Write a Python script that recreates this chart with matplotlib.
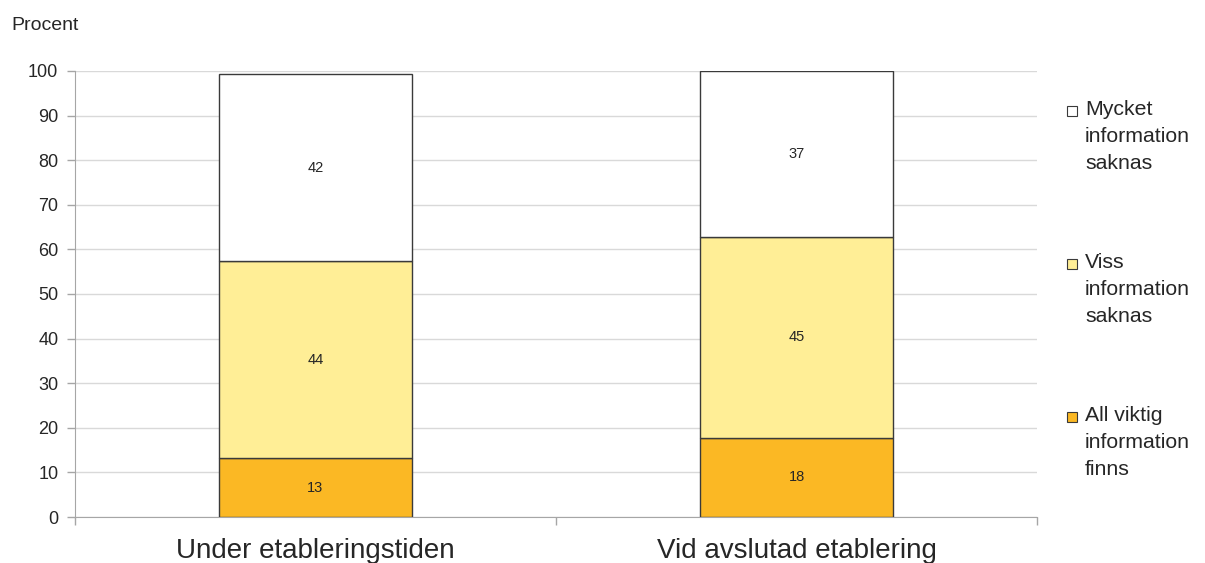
import matplotlib
matplotlib.use("Agg")
import matplotlib.pyplot as plt
from matplotlib.patches import Rectangle
import numpy as np

plt.rcParams['font.family'] = ['Liberation Sans', 'DejaVu Sans']

categories = ["Under etableringstiden", "Vid avslutad etablering"]
series_names = ["All viktig\ninformation\nfinns", "Viss\ninformation\nsaknas", "Mycket\ninformation\nsaknas"]
all_viktig = [13.2, 17.8]
viss = [44.1, 45.0]
mycket = [42.0, 37.2]
labels_all = ["13", "18"]
labels_viss = ["44", "45"]
labels_mycket = ["42", "37"]
yticks = [0, 10, 20, 30, 40, 50, 60, 70, 80, 90, 100]

colors = ["#FBB824", "#FFEE96", "#FFFFFF"]
edge = "#3a3a3a"

fig = plt.figure(figsize=(12.05, 5.63), dpi=100)
ax = fig.add_axes([75/1205, 1-517/563, (1037-75)/1205, (517-71)/563])

x = np.arange(len(categories))
series = [all_viktig, viss, mycket]
lab = [labels_all, labels_viss, labels_mycket]
bottom = np.zeros(len(categories))
for vals, c, ls in zip(series, colors, lab):
    v = np.array(vals)
    ax.bar(x, v, bottom=bottom, width=0.4, color=c, edgecolor=edge, linewidth=1.0, zorder=3)
    for xi, b, h, t in zip(x, bottom, v, ls):
        ax.text(xi, b + h/2, t, ha='center', va='center', fontsize=10.5, color='#262626', zorder=4)
    bottom = bottom + v

ax.set_xlim(-0.5, len(categories) - 0.5)
ax.set_ylim(0, 100)
ax.set_yticks(yticks)
ax.set_yticklabels([str(t) for t in yticks], fontsize=13, color='#262626')
ax.yaxis.grid(True, color='#D9D9D9', linewidth=1, zorder=0)
ax.set_axisbelow(True)
ax.set_xticks([-0.5, 0.5, 1.5], minor=True)
ax.set_xticks(x)
ax.set_xticklabels(categories, fontsize=20, color='#262626')
ax.tick_params(axis='x', which='major', length=0, pad=15)
ax.tick_params(axis='x', which='minor', length=6, color='#A6A6A6', width=1)
ax.tick_params(axis='y', length=6, color='#A6A6A6', width=1, pad=6)
for s in ['top', 'right']:
    ax.spines[s].set_visible(False)
ax.spines['left'].set_color('#A6A6A6')
ax.spines['bottom'].set_color('#A6A6A6')

fig.text(11/1205, 1-26/563, "Procent", fontsize=14, color='#262626', ha='left', va='center')

# legend (top to bottom: Mycket, Viss, All viktig)
leg_tops = [102, 255, 408]
for name, c, ytop in zip(series_names[::-1], colors[::-1], leg_tops):
    fig.patches.append(Rectangle((1067/1205, 1-(ytop+14)/563), 10/1205, 10/563,
                                 transform=fig.transFigure, facecolor=c, edgecolor=edge, linewidth=0.8))
    fig.text(1085/1205, 1-(ytop-2)/563, name, fontsize=15.3, color='#262626',
             ha='left', va='top', linespacing=1.52)

fig.savefig("out.png", dpi=100)
